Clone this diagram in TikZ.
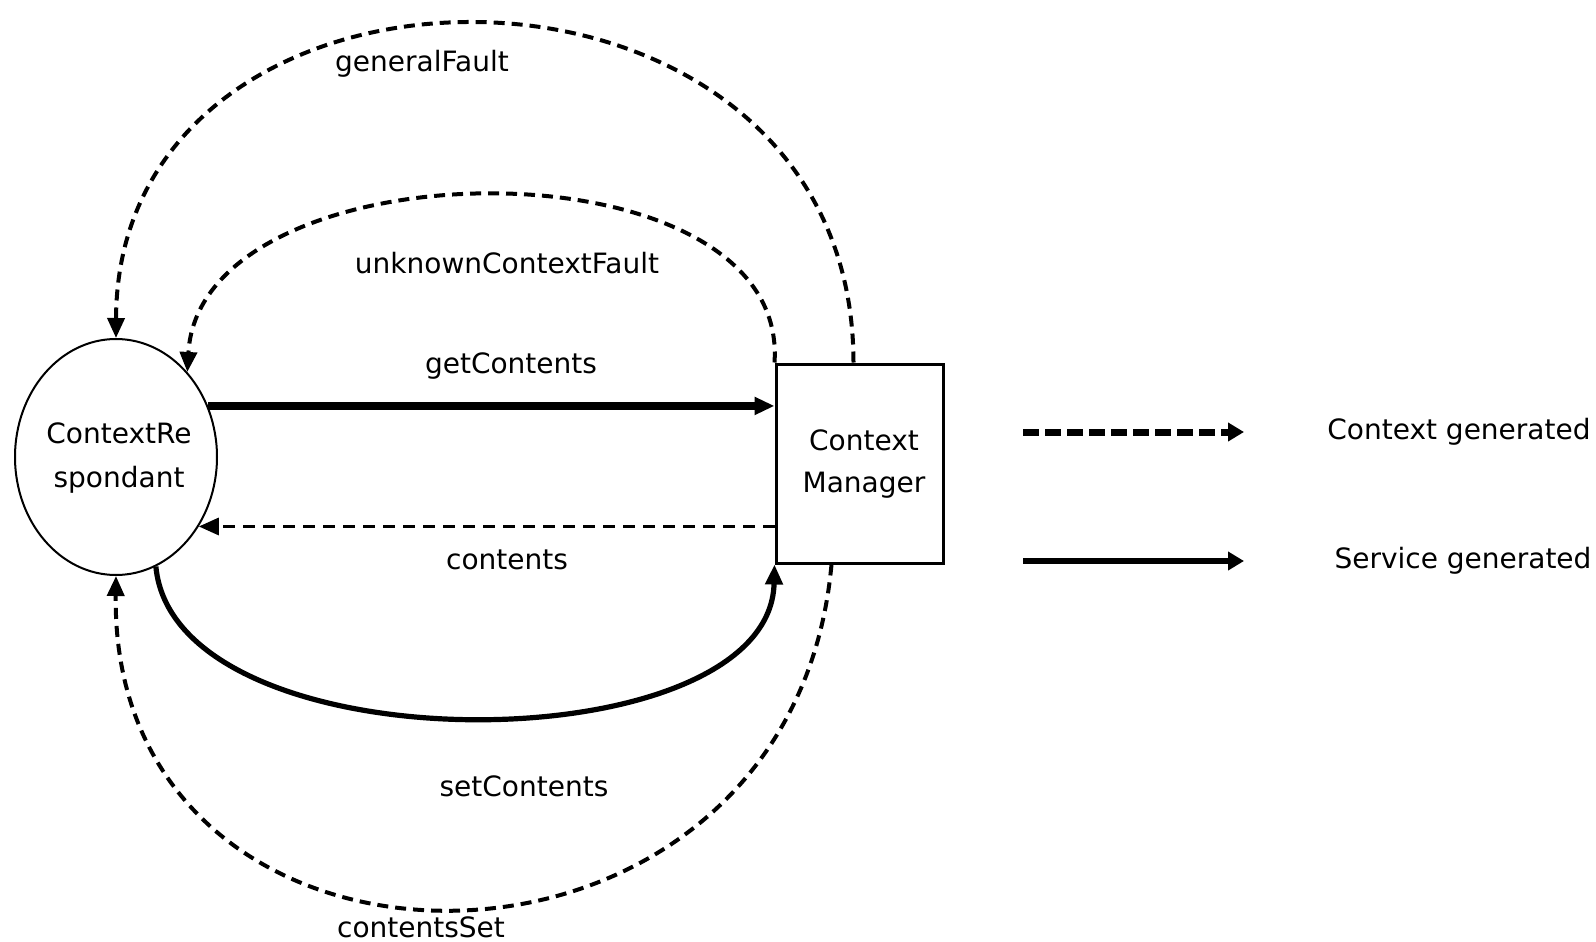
\documentclass[tikz,border=0pt]{standalone}
\usepackage{fontspec}
\setmainfont{DejaVu Sans}
\usetikzlibrary{shapes.geometric,arrows.meta}
\begin{document}
\begin{tikzpicture}[x=0.5pt,y=-0.5pt,
  lbl/.style={font=\fontsize{14}{22}\selectfont, inner sep=0pt},
  tip/.style={-{Triangle[length=10pt,width=8.5pt]}},
  ctx/.style={tip, line width=2pt, dash pattern=on 5.5pt off 3.5pt},
  ctxthin/.style={tip, line width=1.6pt, dash pattern=on 6pt off 4pt},
  svc/.style={tip, line width=2.6pt},
  svcthick/.style={tip, line width=4pt},
  legdash/.style={-{Triangle[length=8pt,width=9pt]}, line width=3.5pt, dash pattern=on 8pt off 3pt},
  legsolid/.style={-{Triangle[length=8pt,width=9pt]}, line width=3pt},
]
\useasboundingbox[fill=white] (0,0) rectangle (1596,942);

% nodes
\node[draw, ellipse, line width=1pt, minimum width=101pt, minimum height=118pt, inner sep=0pt] (cr) at (116,457) {};
\node[lbl, align=center] (crt) at (119,458) {ContextRe\\spondant};
\node[draw, rectangle, line width=1.5pt, minimum width=83.5pt, minimum height=99.5pt, inner sep=0pt] (cm) at (859.5,463.5) {};
\node[lbl, align=center, font=\fontsize{14}{21}\selectfont] (cmt) at (864,464) {Context\\Manager};

% labels
\node[lbl] (lgf) at (422,64) {generalFault};
\node[lbl] (luc) at (507,263) {unknownContextFault};
\node[lbl] (lgc) at (511,366) {getContents};
\node[lbl] (lco) at (507,560) {contents};
\node[lbl] (lsc) at (524,786) {setContents};
\node[lbl] (lcs) at (421,927) {contentsSet};

% connectors
\draw[ctx] ([xshift=-3pt]cm.north) .. controls (853,-84) and (117,-84) .. (cr.north);
\draw[ctx] (cm.north west) .. controls (790,135) and (200,142) .. (cr.50);
\draw[svcthick] (cr.29) -- (cr.29 -| cm.west);
\draw[ctxthin] (cm.west |- cr.-40) -- (cr.-40);
\draw[svc] (cr.-70) .. controls (175,770) and (770,766) .. (cm.south west);
\draw[ctx] ([xshift=-14pt]cm.south) .. controls (790,1021) and (110,1021) .. (cr.south);

% legend
\coordinate (l1s) at (1023,432);
\coordinate (l1e) at (1244,432);
\coordinate (l2s) at (1023,561);
\coordinate (l2e) at (1244,561);
\draw[legdash] (l1s) -- (l1e);
\draw[legsolid] (l2s) -- (l2e);
\node[lbl] (t1) at (1459,432) {Context generated};
\node[lbl] (t2) at (1463,561) {Service generated};
\end{tikzpicture}
\end{document}
